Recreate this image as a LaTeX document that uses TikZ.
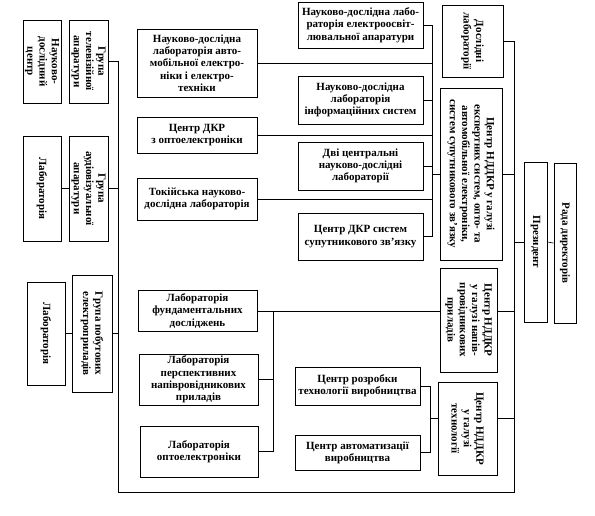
\documentclass[tikz,border=0pt]{standalone}
\usepackage{fontspec}
\setmainfont{Liberation Serif}

\begin{document}
\begin{tikzpicture}[x=1pt,y=-1pt,
  box/.style={draw,line width=0.8pt,align=center,inner sep=0.5pt,
    font=\fontsize{11}{12.3}\selectfont\bfseries},
  vbox/.style={box,rotate=-90},
  link/.style={line width=0.6pt}]
\useasboundingbox (0,0) rectangle (595,515);
% rotated boxes: north = right side, south = left side
\node[vbox,minimum width=83pt,minimum height=38pt] (ndc) at (42,61.5) {Науково-\\дослідний\\центр};
\node[vbox,minimum width=83pt,minimum height=39pt] (tv) at (88.5,61.5) {Група\\телевізійної\\апаратури};
\node[vbox,minimum width=105pt,minimum height=38pt] (labA) at (42,188.5) {Лабораторія};
\node[vbox,minimum width=105pt,minimum height=39pt] (av) at (88.5,188.5) {Група\\аудіовізуальної\\апаратури};
\node[vbox,minimum width=103pt,minimum height=38pt] (labB) at (46,333.5) {Лабораторія};
\node[vbox,minimum width=117pt,minimum height=40pt] (home) at (92,333.5) {Група побутових\\електроприладів};

\node[box,minimum width=120pt,minimum height=68pt] (auto) at (197,63) {Науково-дослідна\\лабораторія авто-\\мобільної електро-\\ніки і електро-\\техніки};
\node[box,minimum width=120pt,minimum height=36pt] (opto) at (197,135) {Центр ДКР\\з оптоелектроніки};
\node[box,minimum width=120pt,minimum height=42pt] (tokyo) at (197,199) {Токійська науково-\\дослідна лабораторія};

\node[box,minimum width=125pt,minimum height=46pt] (light) at (360.5,25) {Науково-дослідна лабо-\\раторія електроосвіт-\\лювальної апаратури};
\node[box,minimum width=125pt,minimum height=48pt] (info) at (360.5,100) {Науково-дослідна\\лабораторія\\інформаційних систем};
\node[box,minimum width=125pt,minimum height=48pt] (two) at (360.5,166) {Дві центральні\\науково-дослідні\\лабораторії};
\node[box,minimum width=125pt,minimum height=47pt] (sat) at (360.5,236.5) {Центр ДКР систем\\супутникового зв’язку};

\node[vbox,minimum width=72pt,minimum height=61pt] (rlab) at (472.5,41) {Дослідні\\лабораторії};
\node[vbox,minimum width=172pt,minimum height=62pt] (expert) at (471,174) {Центр НДДКР у галузі\\експертних систем, опто- та\\автомобільної електроніки,\\систем супутникового зв’язку};
\node[vbox,minimum width=104pt,minimum height=57pt] (semi) at (468.5,320) {Центр НДДКР\\у галузі напів-\\провідникових\\приладів};
\node[vbox,minimum width=93pt,minimum height=59pt] (tech) at (467.5,428.5) {Центр НДДКР\\у галузі\\технології};

\node[box,minimum width=119pt,minimum height=41pt] (fund) at (197.5,311) {Лабораторія\\фундаментальних\\досліджень};
\node[box,minimum width=119pt,minimum height=51pt] (persp) at (198.5,379.5) {Лабораторія\\перспективних\\напівровідникових\\приладів};
\node[box,minimum width=118pt,minimum height=51pt] (lopto) at (199,451.5) {Лабораторія\\оптоелектроніки};

\node[box,minimum width=125pt,minimum height=38pt] (prod) at (357.5,386) {Центр розробки\\технології виробництва};
\node[box,minimum width=125pt,minimum height=35pt] (auto2) at (357.5,452.5) {Центр автоматизації\\виробництва};

\node[vbox,minimum width=160pt,minimum height=23pt] (pres) at (535.5,242) {Президент};
\node[vbox,minimum width=160pt,minimum height=22pt] (rada) at (565,243) {Рада директорів};

% trunks
\coordinate (lt) at (118,61.5);
\coordinate (lb) at (118,492);
\coordinate (rb) at (514,492);
\coordinate (rt) at (514,41);
\coordinate (ut) at (432,25);
\coordinate (ub) at (432,236.5);
\coordinate (mt) at (273,311);
\coordinate (mb) at (273,451.5);
\coordinate (tt) at (430,386);
\coordinate (tb) at (430,452.5);
\coordinate (tj) at (430,418);

\draw[link] (labA.north) -- (av.south);
\draw[link] (labB.north) -- (home.south);
\draw[link] (tv.north) -- (lt) -- (lb) -- (rb) -- (rt) -- (rlab.north);
\draw[link] (av.north) -- (av.north -| lt);
\draw[link] (home.north) -- (home.north -| lt);

\draw[link] (ut) -- (ub);
\draw[link] (light.east) -- (light.east -| ut);
\draw[link] (info.east) -- (info.east -| ut);
\draw[link] (two.east) -- (two.east -| ut);
\draw[link] (sat.east) -- (sat.east -| ut);
\draw[link] (auto.east) -- (auto.east -| ut);
\draw[link] (opto.east) -- (opto.east -| ut);
\draw[link] (tokyo.east) -- (tokyo.east -| ut);
\draw[link] (expert.south) -- (expert.south -| ut);
\draw[link] (expert.north) -- (expert.north -| rt);

\draw[link] (mt) -- (mb);
\draw[link] (fund.east) -- (fund.east -| mt);
\draw[link] (persp.east) -- (persp.east -| mt);
\draw[link] (lopto.east) -- (lopto.east -| mt);
\draw[link] (mt) -- (mt -| semi.south);
\draw[link] (mt -| semi.north) -- (mt -| rt);

\draw[link] (tt) -- (tb);
\draw[link] (prod.east) -- (prod.east -| tt);
\draw[link] (auto2.east) -- (auto2.east -| tt);
\draw[link] (tj) -- (tj -| tech.south);
\draw[link] (tj -| tech.north) -- (tj -| rt);

\draw[link] (pres.south) -- (pres.south -| rt);
\draw[link] (pres.north) -- (rada.south);
\end{tikzpicture}
\end{document}
